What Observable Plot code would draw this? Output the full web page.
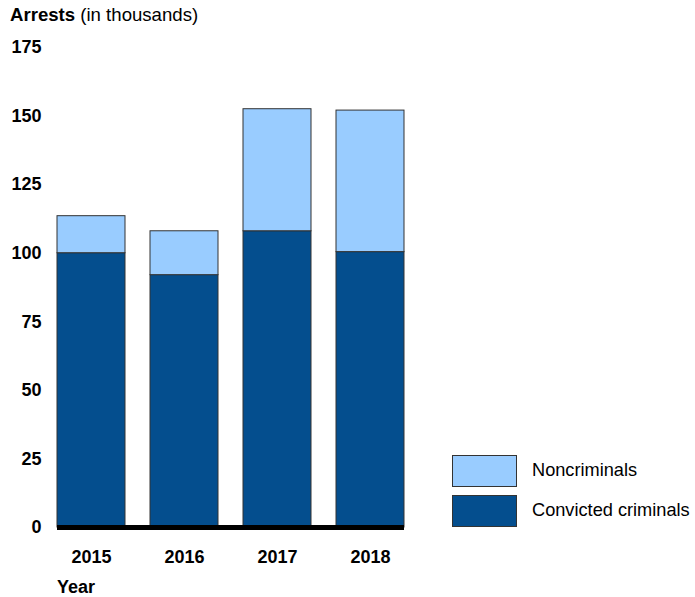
<!DOCTYPE html>
<html>
<head>
<meta charset="utf-8">
<script src="https://cdn.jsdelivr.net/npm/d3@7"></script>
<script src="https://cdn.jsdelivr.net/npm/@observablehq/plot@0.6"></script>
<style>
  html, body { margin: 0; padding: 0; background: #fff; }
  #wrap { position: relative; width: 695px; height: 597px; font-family: "Liberation Sans", Arial, sans-serif; color: #000; }
  #chart { position: absolute; left: 0; top: 0; }
  .title { position: absolute; left: 10px; top: 4px; font-size: 18.6px; white-space: nowrap; }
  .xlabel { position: absolute; left: 57px; top: 577px; font-size: 18px; font-weight: bold; }
  .legend-item { position: absolute; left: 452px; font-size: 18.2px; white-space: nowrap; }
  .legend-item .sw { position: absolute; left: 0; top: 0; width: 63px; height: 30px; border: 1px solid #333; }
  .legend-item .lb { position: absolute; left: 80px; top: 5px; }
</style>
</head>
<body>
<div id="wrap">
  <div id="chart"></div>
  <div class="title"><b>Arrests</b> (in thousands)</div>
  <div class="xlabel">Year</div>
  <div id="legend"></div>
</div>
<script>
const years = ["2015", "2016", "2017", "2018"];
const convicted = [100, 92, 108, 100.4];
const noncriminals = [13.5, 16, 44.5, 51.6];
const seriesNames = ["Convicted criminals", "Noncriminals"];
const seriesColors = ["#044E8E", "#99CCFF"];
const yTicks = [0, 25, 50, 75, 100, 125, 150, 175];

const rows = [];
years.forEach((y, i) => {
  rows.push({year: y, series: seriesNames[0], value: convicted[i]});
  rows.push({year: y, series: seriesNames[1], value: noncriminals[i]});
});

const plot = Plot.plot({
  width: 695,
  height: 597,
  marginLeft: 57,
  marginRight: 291,
  marginTop: 47,
  marginBottom: 70,
  style: {fontFamily: "'Liberation Sans', Arial, sans-serif", fontSize: "18px", fontWeight: "bold", color: "#000", background: "transparent"},
  x: {domain: years, paddingInner: 0.27, paddingOuter: 0, label: null},
  y: {domain: [0, 175], label: null},
  color: {domain: seriesNames, range: seriesColors},
  marks: [
    Plot.barY(rows, Plot.stackY({order: seriesNames, x: "year", y: "value", fill: "series", stroke: "#333", strokeWidth: 1})),
    Plot.ruleY([0], {stroke: "#000", strokeWidth: 5}),
    Plot.axisY({ticks: yTicks, tickSize: 0, tickPadding: 16, label: null}),
    Plot.axisX({tickSize: 0, tickPadding: 23, label: null})
  ]
});
document.getElementById("chart").appendChild(plot);

const legend = document.getElementById("legend");
const legendOrder = [1, 0];
const legendTops = [455, 495];
legendOrder.forEach((si, k) => {
  const item = document.createElement("div");
  item.className = "legend-item";
  item.style.top = legendTops[k] + "px";
  const sw = document.createElement("div");
  sw.className = "sw";
  sw.style.background = seriesColors[si];
  const lb = document.createElement("div");
  lb.className = "lb";
  lb.textContent = seriesNames[si];
  item.appendChild(sw);
  item.appendChild(lb);
  legend.appendChild(item);
});
</script>
</body>
</html>
